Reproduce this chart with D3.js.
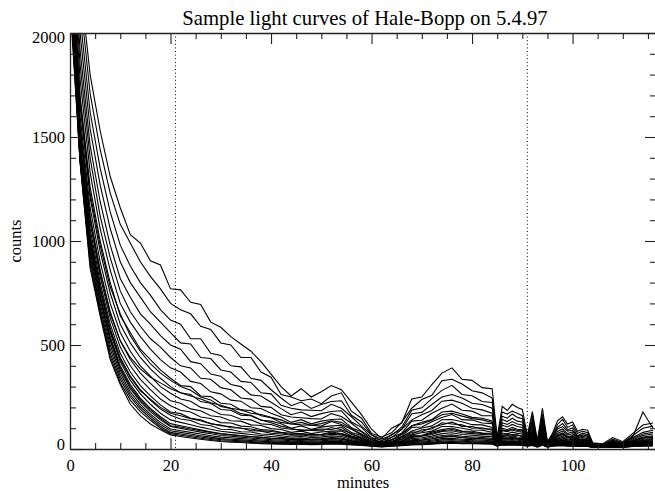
<!DOCTYPE html>
<html><head><meta charset="utf-8">
<script src="https://cdn.jsdelivr.net/npm/d3@7"></script>
<style>
html,body{margin:0;padding:0;background:#fff;}
svg{display:block;}
text{font-family:"Liberation Serif","Times New Roman",serif;fill:#000;}
</style></head><body>
<svg id="chart" width="655" height="491"></svg>
<script>
const titleText = "Sample light curves of Hale-Bopp on 5.4.97";
const xLabel = "minutes";
const yLabel = "counts";
const xMajorTicks = [0,20,40,60,80,100];
const yMajorTicks = [0,500,1000,1500,2000];
const markerTimes = [21,91];
const times = [0,2,4,6,8,10,12,14,16,18,20,22,24,26,28,30,32,34,36,38,40,42,44,46,48,50,52,54,56,58,60,62,64,66,68,70,72,74,76,78,80,82,84,85,86,87,88,89,90,91,92,93,94,95,96,97,98,99,100,101,102,103,104,106,108,110,112,114,116];

const c01 = [2900,2250,1800,1530,1310,1160,1030,990,905,885,770,765,705,695,610,585,540,505,470,420,360,
300,255,290,250,275,305,285,225,165,95,50,100,125,240,250,310,365,390,335,330,295,290,
55,205,185,215,200,190,65,180,40,195,35,75,135,155,120,130,85,95,90,30,
25,55,35,75,115,125];
const c02 = [2850,2170,1710,1440,1230,1080,990,900,830,770,700,670,650,590,575,510,500,440,440,370,345,
262,250,232,240,218,255,270,182,148,75,58,78,128,196,238,258,328,335,312,280,270,245,
52,178,168,182,172,160,58,162,38,168,32,66,118,142,104,116,74,86,78,28,
22,48,30,65,100,110];
const c03 = [2780,2080,1620,1350,1140,980,880,800,740,670,620,600,530,530,460,450,400,395,340,330,285,
245,208,226,195,214,228,232,162,130,68,48,66,105,186,198,242,282,306,262,256,228,224,
48,158,148,168,152,146,54,138,35,152,30,60,104,122,93,101,64,76,69,25,
20,42,28,60,178,100];
const c04 = [2720,2000,1540,1270,1060,900,800,730,660,610,560,510,505,440,435,380,370,325,320,270,265,
210,196,188,186,184,215,196,155,110,68,38,70,95,170,176,214,250,262,245,220,214,196,
44,142,132,148,134,130,50,126,32,136,28,54,96,108,86,90,60,68,62,24,
18,40,26,55,80,90];
const c05 = [2660,1920,1460,1190,980,820,730,650,600,545,500,480,420,410,360,350,310,300,260,255,225,
194,165,178,156,170,180,184,130,104,55,42,55,94,140,165,185,230,235,220,196,188,172,
42,126,118,132,120,116,45,112,30,121,26,50,84,96,74,82,55,61,55,22,
17,36,24,50,72,80];
const c06 = [2600,1850,1400,1120,920,760,660,590,530,490,440,400,390,340,335,295,285,245,240,205,200,
165,154,150,146,144,170,156,124,86,54,30,56,76,134,138,172,196,216,186,182,160,160,
40,114,106,118,108,104,42,100,28,109,25,46,75,87,67,73,50,55,49,20,
16,33,22,45,65,72];
const c07 = [2550,1780,1330,1060,860,700,610,540,480,430,390,370,325,315,275,265,235,230,198,195,172,
154,128,141,121,134,142,144,102,83,44,33,44,73,112,128,142,178,182,168,152,148,135,
36,100,93,104,95,92,38,88,26,96,23,41,67,77,59,65,45,49,44,19,
15,30,20,40,58,64];
const c08 = [2500,1700,1260,1000,800,640,560,480,430,380,340,305,300,255,252,220,215,188,185,160,150,
128,120,116,114,110,132,118,95,67,44,25,45,60,104,106,131,151,166,141,139,125,122,
34,88,83,91,84,81,35,79,24,85,22,37,59,69,53,58,40,44,39,18,
14,27,19,36,52,56];
const c09 = [2480,1650,1210,950,750,600,510,440,385,340,300,270,262,228,220,190,186,162,160,138,134,
121,100,111,95,105,111,113,79,65,36,28,36,58,87,101,111,141,142,131,117,116,103,
32,77,73,81,75,72,32,71,22,76,20,34,53,61,47,52,36,40,35,17,
13,25,18,33,47,50];
const c10 = [2450,1600,1160,900,700,560,470,400,350,300,268,240,230,200,190,166,162,143,140,121,118,
101,95,92,89,87,103,93,75,52,36,22,37,48,81,83,103,117,129,109,108,96,96,
30,68,64,71,66,64,30,63,21,67,19,31,47,54,42,46,32,36,31,16,
13,23,17,30,42,45];
const c11 = [2420,1560,1120,860,660,520,430,365,315,270,232,220,193,184,160,154,136,134,116,113,98,
94,80,86,74,82,86,87,62,51,30,24,30,46,68,78,86,108,108,100,91,90,81,
28,61,57,63,58,56,28,56,20,59,18,29,42,48,37,41,29,33,28,15,
12,21,16,28,38,40];
const c12 = [2400,1520,1090,830,630,490,400,335,285,240,208,186,178,154,147,127,125,110,107,93,90,
80,76,74,70,70,82,74,60,44,29,19,30,39,65,66,81,93,101,86,85,77,76,
26,55,51,57,52,50,26,51,19,53,17,27,38,44,34,37,27,30,26,14,
12,20,15,26,35,37];
const c13 = [2380,1490,1060,800,600,460,370,305,255,212,178,170,148,141,121,115,102,101,88,86,76,
72,66,68,61,64,71,68,52,40,26,19,26,36,56,61,70,84,88,78,74,70,67,
24,48,47,50,47,45,24,45,18,47,16,24,35,39,32,33,25,27,25,14,
11,18,14,24,32,34];
const c14 = [2350,1470,1030,780,580,440,350,285,235,192,162,144,137,118,112,95,94,83,82,72,70,
64,58,60,55,57,63,60,46,36,24,18,24,32,50,54,62,74,78,70,66,62,59,
22,43,42,45,42,40,22,40,17,42,15,22,32,35,29,30,23,25,23,13,
11,17,13,22,29,31];
const c15 = [2330,1450,1010,760,560,420,330,265,215,172,140,128,117,105,95,85,80,75,70,65,60,
56,51,53,48,50,55,53,41,33,22,17,22,29,44,48,55,65,68,61,58,55,52,
21,38,37,40,37,35,21,36,16,37,15,21,29,32,27,27,21,23,21,12,
10,16,13,20,26,28];
const c16 = [2300,1430,990,740,540,400,310,245,195,155,122,112,102,92,83,74,70,65,60,56,52,
49,45,47,43,44,49,47,37,30,21,16,21,27,39,42,48,57,60,54,51,48,46,
20,34,33,36,33,31,20,32,15,33,14,20,26,29,24,25,19,21,19,12,
10,15,12,19,24,26];
const c17 = [2280,1410,970,720,520,380,290,228,180,140,108,99,90,81,73,65,61,57,53,49,45,
43,40,41,38,39,43,41,33,27,19,15,19,24,35,37,42,50,52,47,45,42,40,
19,31,30,32,30,28,19,29,14,30,13,19,24,26,22,22,18,19,18,11,
9,14,11,17,22,23];
const c18 = [2260,1400,950,700,500,365,275,215,168,128,96,88,80,72,64,57,54,50,47,43,40,
38,35,36,34,35,38,36,30,25,18,14,18,22,31,33,37,44,46,42,40,37,36,
18,28,27,29,27,26,18,26,13,27,12,18,22,24,20,20,16,17,16,10,
9,13,10,16,20,21];
const c19 = [2230,1390,930,680,480,350,262,203,158,118,88,80,72,64,57,50,47,44,41,38,35,
33,31,32,30,31,33,32,27,23,17,13,17,20,27,29,32,38,40,37,35,33,32,
17,25,24,26,24,23,17,23,12,24,11,17,20,22,18,18,15,16,15,10,
8,12,10,15,18,19];
const c20 = [2200,1385,910,665,460,335,250,192,148,108,80,72,65,58,51,45,42,39,36,33,31,
30,28,29,27,28,30,29,25,21,16,12,16,19,25,26,29,34,36,33,31,30,29,
16,23,22,24,22,21,16,21,11,22,10,16,18,20,17,17,14,15,14,9,
8,11,9,14,17,17];
const c21 = [2180,1382,890,650,445,320,235,180,138,100,74,66,59,52,46,40,37,35,32,29,27,
26,25,26,24,25,27,26,22,19,15,11,15,17,22,23,26,30,32,29,28,27,26,
15,21,20,22,20,19,15,19,10,20,10,15,17,18,15,15,13,14,13,9,
7,10,9,13,15,16];
const c22 = [2150,1380,870,640,430,310,215,160,120,92,68,60,53,47,41,36,33,31,28,26,24,
23,22,23,21,22,24,23,20,17,14,10,14,16,20,21,23,27,28,26,25,24,23,
14,19,18,20,18,17,14,17,9,18,9,14,15,16,14,14,12,13,12,8,
7,9,8,12,14,15];
const c23 = [2470,1680,1230,980,780,650,545,470,410,365,330,300,282,250,236,205,195,170,162,140,126,
110,100,88,92,96,94,104,70,58,32,28,30,55,72,92,96,126,120,116,100,102,90,
30,66,70,66,68,60,30,64,20,64,19,30,46,55,41,47,31,36,30,16,
13,22,17,31,40,46];
const c24 = [2410,1550,1110,850,650,520,440,385,345,318,290,270,255,240,222,210,196,188,172,166,152,
140,120,128,114,122,136,128,98,72,45,32,44,70,112,120,138,165,172,158,146,140,128,
34,92,88,96,90,86,36,84,25,90,22,38,64,72,57,60,42,46,42,18,
14,28,20,38,54,60];
const c25 = [2340,1460,1020,770,570,430,345,280,240,200,172,160,146,136,122,112,108,100,96,88,84,
78,70,73,66,69,76,73,56,43,28,20,28,38,60,64,75,88,94,84,79,75,71,
25,52,50,54,50,48,25,48,18,50,16,25,37,41,33,35,26,28,26,14,
11,19,14,25,33,36];
const c26 = [2290,1420,980,730,530,390,300,236,188,148,112,106,96,88,80,72,68,64,59,56,52,
50,46,48,44,46,50,48,38,31,21,16,21,27,40,43,49,58,61,55,52,49,47,
20,35,34,37,34,32,20,33,15,34,14,20,27,30,25,26,20,22,20,12,
10,15,12,19,24,26];

const series = [c01,c02,c03,c04,c05,c06,c07,c08,c09,c10,c11,c12,c13,c14,c15,c16,c17,c18,c19,c20,c21,c22,c23,c24,c25,c26];

const L = 70, R = 656, T = 33, B = 449;
const svg = d3.select("#chart");
const x = d3.scaleLinear().domain([0, 116.6]).range([L, R]);
const y = d3.scaleLinear().domain([0, 2000]).range([B, T]);

svg.append("defs").append("clipPath").attr("id","plotclip")
  .append("rect").attr("x",L).attr("y",T).attr("width",R-L).attr("height",B-T);

const line = d3.line().x((d,i)=>x(times[i])).y(d=>y(d));
svg.append("g").attr("clip-path","url(#plotclip)")
  .selectAll("path").data(series).join("path")
  .attr("d", line).attr("fill","none").attr("stroke","#000")
  .attr("stroke-width",1.1).attr("stroke-linejoin","miter");

svg.append("g").selectAll("line").data(markerTimes).join("line")
  .attr("x1",d=>x(d)).attr("x2",d=>x(d)).attr("y1",T).attr("y2",B)
  .attr("stroke","#000").attr("stroke-width",1).attr("stroke-dasharray","1,2.6");

const xMinor = d3.range(0,117,5).filter(v=>!xMajorTicks.includes(v));
const yMinor = d3.range(0,2001,100).filter(v=>!yMajorTicks.includes(v));
function styleAxis(g){
  g.select(".domain").attr("stroke","#222").attr("stroke-width",1.3);
  g.selectAll(".tick line").attr("stroke","#222").attr("stroke-width",1.1);
  g.selectAll("text").style("font-family",'"Liberation Serif",serif').style("font-size","16.5px").attr("fill","#000");
}
const gxB = svg.append("g").attr("transform",`translate(0,${B})`)
  .call(d3.axisBottom(x).tickValues(xMajorTicks).tickFormat(d3.format("d")).tickSize(-11).tickSizeOuter(0).tickPadding(10));
styleAxis(gxB);
const gxBm = svg.append("g").attr("transform",`translate(0,${B})`)
  .call(d3.axisBottom(x).tickValues(xMinor).tickFormat("").tickSize(-6).tickSizeOuter(0));
styleAxis(gxBm); gxBm.select(".domain").remove();
const gxT = svg.append("g").attr("transform",`translate(0,${T})`)
  .call(d3.axisTop(x).tickValues(xMajorTicks).tickFormat("").tickSize(-11).tickSizeOuter(0));
styleAxis(gxT);
const gxTm = svg.append("g").attr("transform",`translate(0,${T})`)
  .call(d3.axisTop(x).tickValues(xMinor).tickFormat("").tickSize(-6).tickSizeOuter(0));
styleAxis(gxTm); gxTm.select(".domain").remove();

const gyL = svg.append("g").attr("transform",`translate(${L},0)`)
  .call(d3.axisLeft(y).tickValues(yMajorTicks).tickFormat(d3.format("d")).tickSize(-11).tickSizeOuter(0).tickPadding(5));
styleAxis(gyL);
gyL.selectAll(".tick text").attr("dy", d => d===2000 ? "0.6em" : (d===0 ? "0.0em" : "0.32em"));
const gyLm = svg.append("g").attr("transform",`translate(${L},0)`)
  .call(d3.axisLeft(y).tickValues(yMinor).tickFormat("").tickSize(-6).tickSizeOuter(0));
styleAxis(gyLm); gyLm.select(".domain").remove();
const gyR = svg.append("g").attr("transform",`translate(${R},0)`)
  .call(d3.axisRight(y).tickValues(yMajorTicks).tickFormat("").tickSize(-11).tickSizeOuter(0));
styleAxis(gyR);
const gyRm = svg.append("g").attr("transform",`translate(${R},0)`)
  .call(d3.axisRight(y).tickValues(yMinor).tickFormat("").tickSize(-6).tickSizeOuter(0));
styleAxis(gyRm); gyRm.select(".domain").remove();

svg.append("text").attr("x",365).attr("y",25).attr("text-anchor","middle")
  .style("font-size","20.7px").text(titleText);
svg.append("text").attr("x",(L+R)/2).attr("y",488).attr("text-anchor","middle")
  .style("font-size","16.5px").text(xLabel);
svg.append("text").attr("transform",`translate(21,${(T+B)/2}) rotate(-90)`).attr("text-anchor","middle")
  .style("font-size","16.5px").text(yLabel);
</script>
</body></html>
